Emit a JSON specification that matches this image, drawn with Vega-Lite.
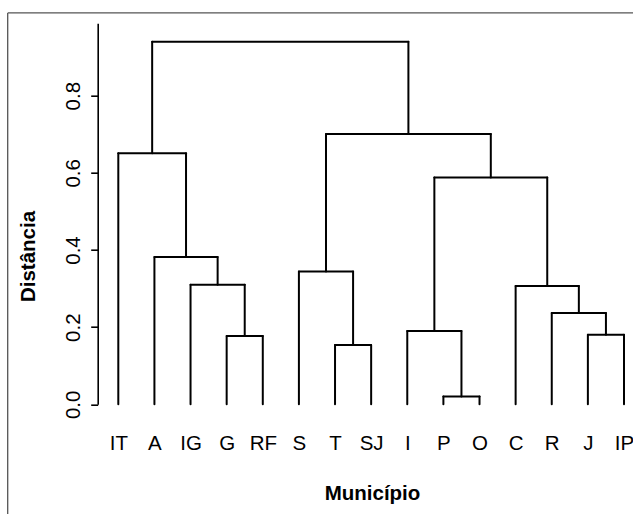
{
  "$schema": "https://vega.github.io/schema/vega-lite/v6.json",
  "width": 625.5,
  "height": 501.3,
  "autosize": {"type": "none"},
  "padding": {"left": 7.5, "top": 12.7, "right": 0, "bottom": 0},
  "background": "white",
  "config": {
    "view": {"stroke": "#555555", "strokeWidth": 1.3, "strokeDash": [625.5, 1126.8, 501.3]},
    "axis": {"grid": false},
    "font": "Liberation Sans"
  },
  "data": {
    "values": [
      {"p1": 4, "p2": 5, "h1": 0.177, "h2": 0.177},
      {"p1": 4, "p2": 4, "h1": 0, "h2": 0.177},
      {"p1": 5, "p2": 5, "h1": 0, "h2": 0.177},
      {"p1": 3, "p2": 4.5, "h1": 0.31, "h2": 0.31},
      {"p1": 3, "p2": 3, "h1": 0, "h2": 0.31},
      {"p1": 4.5, "p2": 4.5, "h1": 0.177, "h2": 0.31},
      {"p1": 2, "p2": 3.75, "h1": 0.382, "h2": 0.382},
      {"p1": 2, "p2": 2, "h1": 0, "h2": 0.382},
      {"p1": 3.75, "p2": 3.75, "h1": 0.31, "h2": 0.382},
      {"p1": 1, "p2": 2.875, "h1": 0.651, "h2": 0.651},
      {"p1": 1, "p2": 1, "h1": 0, "h2": 0.651},
      {"p1": 2.875, "p2": 2.875, "h1": 0.382, "h2": 0.651},
      {"p1": 7, "p2": 8, "h1": 0.154, "h2": 0.154},
      {"p1": 7, "p2": 7, "h1": 0, "h2": 0.154},
      {"p1": 8, "p2": 8, "h1": 0, "h2": 0.154},
      {"p1": 6, "p2": 7.5, "h1": 0.344, "h2": 0.344},
      {"p1": 6, "p2": 6, "h1": 0, "h2": 0.344},
      {"p1": 7.5, "p2": 7.5, "h1": 0.154, "h2": 0.344},
      {"p1": 10, "p2": 11, "h1": 0.02, "h2": 0.02},
      {"p1": 10, "p2": 10, "h1": 0, "h2": 0.02},
      {"p1": 11, "p2": 11, "h1": 0, "h2": 0.02},
      {"p1": 9, "p2": 10.5, "h1": 0.19, "h2": 0.19},
      {"p1": 9, "p2": 9, "h1": 0, "h2": 0.19},
      {"p1": 10.5, "p2": 10.5, "h1": 0.02, "h2": 0.19},
      {"p1": 14, "p2": 15, "h1": 0.18, "h2": 0.18},
      {"p1": 14, "p2": 14, "h1": 0, "h2": 0.18},
      {"p1": 15, "p2": 15, "h1": 0, "h2": 0.18},
      {"p1": 13, "p2": 14.5, "h1": 0.237, "h2": 0.237},
      {"p1": 13, "p2": 13, "h1": 0, "h2": 0.237},
      {"p1": 14.5, "p2": 14.5, "h1": 0.18, "h2": 0.237},
      {"p1": 12, "p2": 13.75, "h1": 0.307, "h2": 0.307},
      {"p1": 12, "p2": 12, "h1": 0, "h2": 0.307},
      {"p1": 13.75, "p2": 13.75, "h1": 0.237, "h2": 0.307},
      {"p1": 9.75, "p2": 12.875, "h1": 0.588, "h2": 0.588},
      {"p1": 9.75, "p2": 9.75, "h1": 0.19, "h2": 0.588},
      {"p1": 12.875, "p2": 12.875, "h1": 0.307, "h2": 0.588},
      {"p1": 6.75, "p2": 11.3125, "h1": 0.701, "h2": 0.701},
      {"p1": 6.75, "p2": 6.75, "h1": 0.344, "h2": 0.701},
      {"p1": 11.3125, "p2": 11.3125, "h1": 0.588, "h2": 0.701},
      {"p1": 1.9375, "p2": 9.03125, "h1": 0.94, "h2": 0.94},
      {"p1": 1.9375, "p2": 1.9375, "h1": 0.651, "h2": 0.94},
      {"p1": 9.03125, "p2": 9.03125, "h1": 0.701, "h2": 0.94}
    ]
  },
  "mark": {"type": "rule", "color": "black", "strokeWidth": 2, "strokeCap": "round"},
  "encoding": {
    "x": {
      "field": "p1", "type": "quantitative",
      "scale": {"domain": [1, 15], "range": [110.8, 616.5], "nice": false, "zero": false},
      "axis": {
        "orient": "bottom", "offset": -109.7,
        "values": [1,2,3,4,5,6,7,8,9,10,11,12,13,14,15],
        "labelExpr": "['IT','A','IG','G','RF','S','T','SJ','I','P','O','C','R','J','IP'][datum.value - 1]",
        "domain": false, "ticks": false, "tickSize": 0,
        "labelPadding": 45, "labelBaseline": "alphabetic", "labelAlign": "center",
        "labelFontSize": 20.5, "labelColor": "black", "labelFlush": false, "labelOverlap": false, "labelFont": "Liberation Sans",
        "title": "Município", "titleFontSize": 20.5, "titleFontWeight": "bold", "titleColor": "black", "titleFont": "Liberation Sans",
        "titleX": 364.5, "titleY": 94.7, "titleAlign": "center", "titleBaseline": "alphabetic", "titleAnchor": null
      }
    },
    "x2": {"field": "p2"},
    "y": {
      "field": "h1", "type": "quantitative",
      "scale": {"domain": [0, 0.9877], "range": [391.6, 10.6], "nice": false, "zero": false},
      "axis": {
        "orient": "left", "offset": -90.2,
        "values": [0, 0.2, 0.4, 0.6, 0.8], "format": ".1f",
        "domainColor": "black", "domainWidth": 1.6, "tickColor": "black", "tickWidth": 1.6, "tickSize": 7,
        "labelAngle": 270, "labelAlign": "center", "labelBaseline": "alphabetic", "labelPadding": 11,
        "labelFontSize": 20.5, "labelColor": "black", "labelFlush": false, "labelOverlap": false, "labelFont": "Liberation Sans",
        "title": "Distância", "titleFontSize": 20.5, "titleFontWeight": "bold", "titleColor": "black", "titleFont": "Liberation Sans",
        "titleAngle": 270, "titleX": -62.7, "titleY": 243.3, "titleAlign": "center", "titleBaseline": "alphabetic", "titleAnchor": null
      }
    },
    "y2": {"field": "h2"}
  }
}
